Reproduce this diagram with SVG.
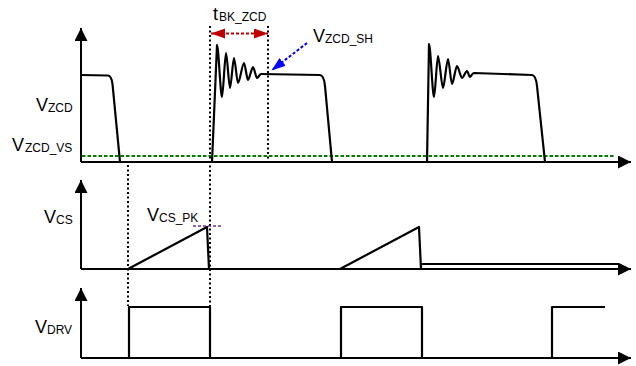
<svg xmlns="http://www.w3.org/2000/svg" width="636" height="366" viewBox="0 0 636 366">
<style>
.ax{fill:none;stroke:#000;stroke-width:2}
.wf{fill:none;stroke:#000;stroke-width:2.2;stroke-linejoin:round}
.dot{fill:none;stroke:#000;stroke-width:2;stroke-dasharray:2 2.5}
.lbl{font-family:"Liberation Sans",Arial,sans-serif;font-size:18px;fill:#000}
.sub{font-size:12px}
</style>
<defs>
<marker id="ah" markerUnits="userSpaceOnUse" markerWidth="14" markerHeight="14" refX="13" refY="6.5" orient="auto"><path d="M0,0 L13,6.5 L0,13 z" fill="#000"/></marker>
<marker id="ahr" markerUnits="userSpaceOnUse" markerWidth="15" markerHeight="11" refX="14" refY="5" orient="auto-start-reverse"><path d="M0,0 L14,5 L0,10 z" fill="#C00000"/></marker>
<marker id="ahb" markerUnits="userSpaceOnUse" markerWidth="15" markerHeight="11" refX="14" refY="5" orient="auto"><path d="M0,0 L14,5 L0,10 z" fill="#0000FF"/></marker>
</defs>

<g id="axes">
<path class="ax" d="M81,162 V28" marker-end="url(#ah)"/>
<path class="ax" d="M81,162 H631" marker-end="url(#ah)"/>
<path class="ax" d="M81,269 V180" marker-end="url(#ah)"/>
<path class="ax" d="M81,269 H631" marker-end="url(#ah)"/>
<path class="ax" d="M81,358 V288" marker-end="url(#ah)"/>
<path class="ax" d="M81,358 H631" marker-end="url(#ah)"/>
</g>

<g id="threshold">
<line x1="82" y1="156" x2="614" y2="156" stroke="#008000" stroke-width="2" stroke-dasharray="3.5 2"/>
</g>

<g id="vzcd-wave">
<path class="wf" d="M81,75 L108,75.5 Q111.5,76 112.5,84 L120,162"/>
<path class="wf" d="M212,162 L217,45 C218.5,45 220.5,97 222,97 C223.2,97 224.8,53 226,53 C227.2,53 228.8,88 230,88 C231.2,88 232.8,58 234,58 C235.2,58 236.8,83 238,83 C239.8,83 242.2,63 244,63 C245.2,63 246.8,80 248,80 C249.5,80 251.5,67 253,67 C254.2,67 255.8,78 257,78 C258.2,78 259.8,74 261,74 L320,75 Q324,75.5 325,86 L332,162"/>
<path class="wf" d="M427,162 L429,44 C430.5,44 432.5,97 434,97 C435.2,97 436.8,56 438,56 C439.5,56 441.5,88 443,88 C444.5,88 446.5,59 448,59 C449.2,59 450.8,84 452,84 C453.5,84 455.5,66 457,66 C458.5,66 460.5,78 462,78 C463.5,78 465.5,71 467,71 C468,71 469,77 470,77 C471,77 472,73 474,73 L532,75 Q536,75.5 537,86 L545,162"/>
</g>

<g id="vcs-wave">
<path class="wf" d="M128,269 L207,227 L209,269"/>
<path class="wf" d="M340,269 L419,227 L421,269 V264 H618"/>
</g>

<g id="vdrv-wave">
<path class="wf" d="M129,358 V307 H210 V358"/>
<path class="wf" d="M341,358 V307 H422 V358"/>
<path class="wf" d="M552,358 V307 H605"/>
</g>

<g id="connectors">
<line class="dot" x1="128" y1="165" x2="128" y2="306"/>
<line class="dot" x1="210" y1="26" x2="210" y2="306"/>
<line class="dot" x1="268" y1="26" x2="268" y2="161"/>
<line x1="211" y1="33.5" x2="268" y2="33.5" stroke="#C00000" stroke-width="2" stroke-dasharray="3 2" marker-start="url(#ahr)" marker-end="url(#ahr)"/>
<line x1="307" y1="43" x2="271.5" y2="70.5" stroke="#0000FF" stroke-width="2" stroke-dasharray="3 2" marker-end="url(#ahb)"/>
<line x1="193" y1="226" x2="222" y2="226" stroke="#7030A0" stroke-width="1.6" stroke-dasharray="3 2"/>
</g>

<g id="labels">
<text class="lbl" x="213" y="20">t<tspan class="sub" x="219" y="21">BK_ZCD</tspan></text>
<text class="lbl" x="313" y="42">V<tspan class="sub" x="325" y="43">ZCD_SH</tspan></text>
<text class="lbl" x="36" y="111">V<tspan class="sub" x="48" y="112">ZCD</tspan></text>
<text class="lbl" x="12" y="151">V<tspan class="sub" x="25" y="152">ZCD_VS</tspan></text>
<text class="lbl" x="44" y="223">V<tspan class="sub" x="56" y="224">CS</tspan></text>
<text class="lbl" x="147" y="221">V<tspan class="sub" x="159" y="222">CS_PK</tspan></text>
<text class="lbl" x="35" y="333">V<tspan class="sub" x="47" y="334">DRV</tspan></text>
</g>
</svg>
